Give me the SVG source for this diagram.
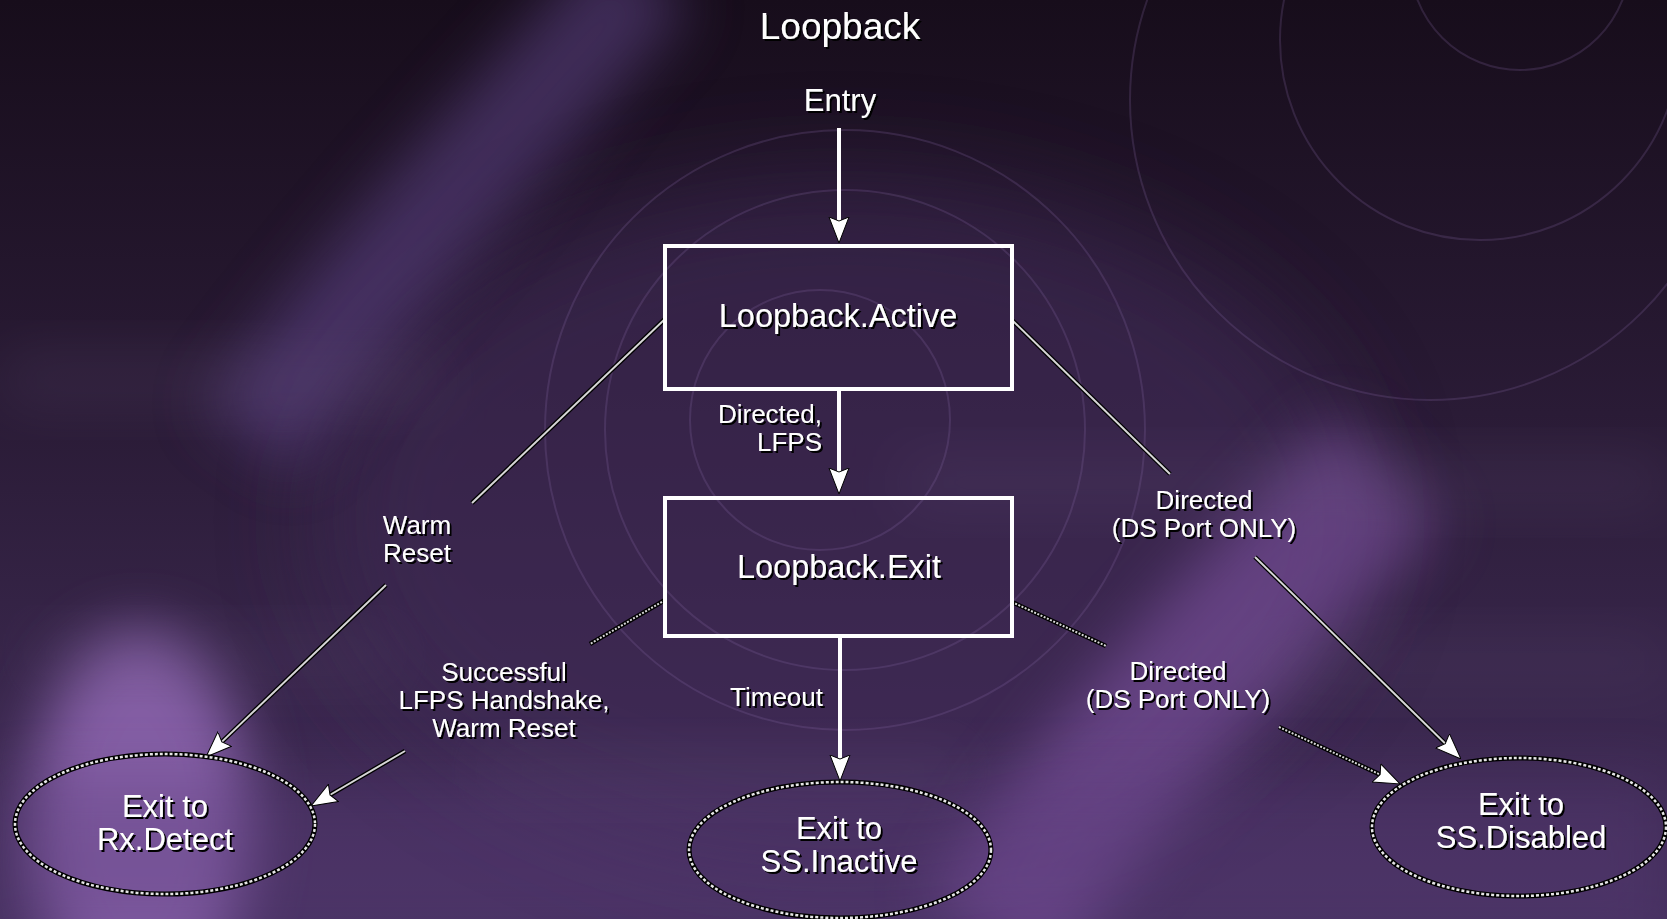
<svg xmlns="http://www.w3.org/2000/svg" width="1667" height="919" viewBox="0 0 1667 919">
<defs>
<style>
.lbl{font-family:"Liberation Sans",Arial,sans-serif;fill:#fff;font-size:26px;text-anchor:middle}
.end{text-anchor:end}
.ttl{font-family:"Liberation Sans",Arial,sans-serif;fill:#fff;font-size:37px;text-anchor:middle}
.ent{font-family:"Liberation Sans",Arial,sans-serif;fill:#fff;font-size:31px;text-anchor:middle}
.ntxt{font-family:"Liberation Sans",Arial,sans-serif;fill:#fff;font-size:32.5px;text-anchor:middle}
.otxt{font-family:"Liberation Sans",Arial,sans-serif;fill:#fff;font-size:31px;text-anchor:middle}
.box{fill:none;stroke:#fff;stroke-width:4}
.ovb{fill:none;stroke:#000;stroke-width:5}
.ovw{fill:none;stroke:#e6e6e6;stroke-width:2.5;stroke-dasharray:3 2}
.wire{fill:none;stroke:#fff;stroke-width:4}
.db{fill:none;stroke:#000;stroke-width:4.5}
.dw{fill:none;stroke:#d6d6d6;stroke-width:2}
.ring{fill:none;stroke:#8c6cae;stroke-width:2;opacity:.22}
</style>
<linearGradient id="bg" x1="0" y1="0" x2="0" y2="1">
<stop offset="0" stop-color="#170d1b"/>
<stop offset="0.45" stop-color="#2a1b36"/>
<stop offset="1" stop-color="#45305e"/>
</linearGradient>
<filter id="b30" x="-50%" y="-50%" width="200%" height="200%"><feGaussianBlur stdDeviation="30"/></filter>
<filter id="b50" x="-50%" y="-50%" width="200%" height="200%"><feGaussianBlur stdDeviation="50"/></filter>
<filter id="ts" x="-10%" y="-30%" width="130%" height="170%"><feDropShadow dx="2" dy="2" stdDeviation="0.4" flood-color="#000" flood-opacity="1"/></filter>
<marker id="ah" viewBox="0 0 26 22" refX="20" refY="11" markerWidth="26" markerHeight="22" orient="auto" markerUnits="userSpaceOnUse">
<path d="M0,1 L26,11 L0,21 L4,11 Z" fill="#fff" stroke="#000" stroke-width="1"/>
</marker>
</defs>

<g id="background">
<rect x="0" y="0" width="1667" height="919" fill="url(#bg)"/>
<ellipse cx="840" cy="520" rx="520" ry="340" fill="#3f2b57" opacity="0.6" filter="url(#b50)"/>
<path d="M650,-30 C520,120 380,260 250,440" stroke="#5e4488" stroke-width="110" fill="none" opacity="0.55" filter="url(#b30)"/>
<ellipse cx="140" cy="820" rx="110" ry="190" fill="#a274c8" opacity="0.7" filter="url(#b30)"/>
<path d="M1390,470 C1260,600 1110,760 990,940" stroke="#8c5cb2" stroke-width="150" fill="none" opacity="0.5" filter="url(#b30)"/>
<rect x="0" y="780" width="1667" height="160" fill="#5c3c7c" opacity="0.35" filter="url(#b30)"/>
<rect x="0" y="350" width="440" height="60" fill="#6a5880" opacity="0.18" filter="url(#b30)"/>
<rect x="900" y="455" width="767" height="55" fill="#6a5880" opacity="0.18" filter="url(#b30)"/>
<rect x="30" y="630" width="370" height="50" fill="#6a5880" opacity="0.15" filter="url(#b30)"/>
<rect x="1240" y="635" width="427" height="55" fill="#6a5880" opacity="0.15" filter="url(#b30)"/>
<rect x="478" y="745" width="490" height="52" fill="#6a5880" opacity="0.15" filter="url(#b30)"/>
<circle class="ring" cx="845" cy="430" r="300"/>
<circle class="ring" cx="845" cy="430" r="240"/>
<circle class="ring" cx="820" cy="420" r="130" opacity="0.15"/>
<circle class="ring" cx="1430" cy="100" r="300"/>
<circle class="ring" cx="1480" cy="40" r="200"/>
<circle class="ring" cx="1520" cy="-40" r="110"/>
</g>

<g id="title" filter="url(#ts)">
<text class="ttl" x="840" y="39">Loopback</text>
<text class="ent" x="840" y="111">Entry</text>
</g>

<g id="connectors">
<line class="wire" x1="839" y1="128" x2="839" y2="237" marker-end="url(#ah)"/>
<line class="wire" x1="839" y1="391" x2="839" y2="488" marker-end="url(#ah)"/>
<line class="wire" x1="840" y1="638" x2="840" y2="775" marker-end="url(#ah)"/>

<line class="db" x1="665" y1="319" x2="472" y2="503"/>
<line class="dw" x1="665" y1="319" x2="472" y2="503"/>
<line class="db" x1="386" y1="585" x2="210.3" y2="752.9"/>
<line class="dw" x1="386" y1="585" x2="210.3" y2="752.9" marker-end="url(#ah)"/>

<line class="db" x1="665" y1="600" x2="590" y2="644"/>
<line class="dw" x1="665" y1="600" x2="590" y2="644" stroke-dasharray="2 1.5"/>
<line class="db" x1="405" y1="751" x2="316.2" y2="803"/>
<line class="dw" x1="405" y1="751" x2="316.2" y2="803" marker-end="url(#ah)"/>

<line class="db" x1="1012" y1="320" x2="1170" y2="474"/>
<line class="dw" x1="1012" y1="320" x2="1170" y2="474"/>
<line class="db" x1="1255" y1="557" x2="1456.7" y2="754.8"/>
<line class="dw" x1="1255" y1="557" x2="1456.7" y2="754.8" marker-end="url(#ah)"/>

<line class="db" x1="1012" y1="602" x2="1106" y2="646"/>
<line class="dw" x1="1012" y1="602" x2="1106" y2="646" stroke-dasharray="2 1.5"/>
<line class="db" x1="1279" y1="727" x2="1394.6" y2="781.4"/>
<line class="dw" x1="1279" y1="727" x2="1394.6" y2="781.4" stroke-dasharray="2 1.5" marker-end="url(#ah)"/>

<g id="connector-labels" filter="url(#ts)">
<text class="lbl end" x="822" y="422.5">Directed,<tspan x="822" dy="28">LFPS</tspan></text>
<text class="lbl end" x="823" y="706">Timeout</text>
<text class="lbl" x="417" y="534">Warm<tspan x="417" dy="28">Reset</tspan></text>
<text class="lbl" x="504" y="680.5">Successful<tspan x="504" dy="28">LFPS Handshake,</tspan><tspan x="504" dy="28">Warm Reset</tspan></text>
<text class="lbl" x="1204" y="509">Directed<tspan x="1204" dy="28">(DS Port ONLY)</tspan></text>
<text class="lbl" x="1178" y="679.5">Directed<tspan x="1178" dy="28">(DS Port ONLY)</tspan></text>
</g>
</g>

<g id="node-loopback-active">
<rect class="box" x="665" y="246" width="347" height="143"/>
<text class="ntxt" x="838" y="327" filter="url(#ts)">Loopback.Active</text>
</g>

<g id="node-loopback-exit">
<rect class="box" x="665" y="498" width="347" height="138"/>
<text class="ntxt" x="839" y="578" filter="url(#ts)">Loopback.Exit</text>
</g>

<g id="node-rx-detect">
<ellipse class="ovb" cx="165" cy="824" rx="150" ry="70"/>
<ellipse class="ovw" cx="165" cy="824" rx="150" ry="70"/>
<text class="otxt" x="165" y="817" filter="url(#ts)">Exit to<tspan x="165" dy="33">Rx.Detect</tspan></text>
</g>

<g id="node-ss-inactive">
<ellipse class="ovb" cx="840" cy="850" rx="151" ry="68"/>
<ellipse class="ovw" cx="840" cy="850" rx="151" ry="68"/>
<text class="otxt" x="839" y="839" filter="url(#ts)">Exit to<tspan x="839" dy="33">SS.Inactive</tspan></text>
</g>

<g id="node-ss-disabled">
<ellipse class="ovb" cx="1519" cy="827" rx="147" ry="69"/>
<ellipse class="ovw" cx="1519" cy="827" rx="147" ry="69"/>
<text class="otxt" x="1521" y="815" filter="url(#ts)">Exit to<tspan x="1521" dy="33">SS.Disabled</tspan></text>
</g>
</svg>
